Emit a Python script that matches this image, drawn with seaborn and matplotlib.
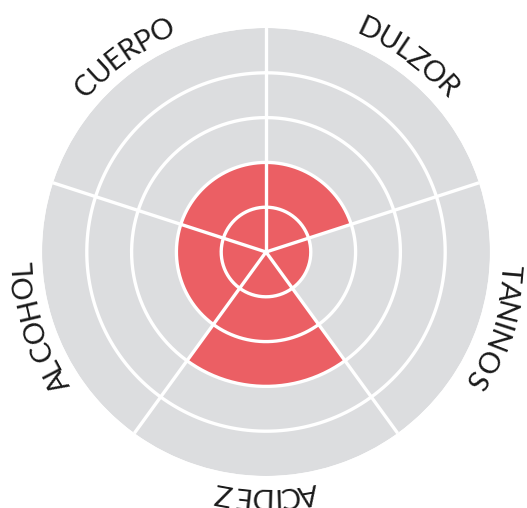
import numpy as np
import matplotlib
matplotlib.use("Agg")
import matplotlib.pyplot as plt
import seaborn as sns
from matplotlib.font_manager import FontProperties

# wine profile values (0..5 rings), clockwise from top
categories = ["DULZOR", "TANINOS", "ACIDEZ", "ALCOHOL", "CUERPO"]
values = [2, 1, 3, 2, 2]
max_level = 5

sns.set_theme(style="white")
plt.rcParams["font.family"] = ["Lato", "DejaVu Sans"]

grey = "#dcdddf"
red = "#eb5f64"
ink = "#1a1a1a"

fig = plt.figure(figsize=(5.27, 5.08), dpi=100)
# circle centre at (266, 252) px, radius 224 px
ax = fig.add_axes([42 / 527, (508 - 252 - 224) / 508, 448 / 527, 448 / 508], projection="polar")
ax.set_theta_zero_location("N")
ax.set_theta_direction(-1)

n = len(categories)
width = 2 * np.pi / n
theta = np.arange(n) * width + width / 2

# grey background sectors then the red values
ax.bar(theta, [max_level] * n, width=width, color=grey, linewidth=0)
ax.bar(theta, values, width=width, color=red, linewidth=0)

# white ring + spoke lines
t = np.linspace(0, 2 * np.pi, 400)
for lvl in range(1, max_level):
    ax.plot(t, np.full_like(t, lvl), color="white", lw=2.4)
for k in range(n):
    ax.plot([k * width, k * width], [0, max_level], color="white", lw=2.4)

ax.set_ylim(0, max_level)
ax.set_xticks([])
ax.set_yticks([])
ax.grid(False)
ax.spines["polar"].set_visible(False)
ax.set_facecolor("none")

# curved labels, letters placed one by one clockwise, tops outward
fp = FontProperties(family=["Lato", "DejaVu Sans"], weight="normal", size=21)
renderer = fig.canvas.get_renderer()
r_px = 244
r_data = max_level * r_px / 224

def text_w(s):
    if not s:
        return 0.0
    w, h, d = renderer.get_text_width_height_descent(s, fp, ismath=False)
    return w

for name, th in zip(categories, theta):
    total = text_w(name)
    for i, ch in enumerate(name):
        mid = (text_w(name[:i]) + text_w(name[:i + 1])) / 2 - total / 2
        a = th + mid / r_px
        ax.text(a, r_data, ch, fontproperties=fp, color=ink,
                rotation=-np.degrees(a), rotation_mode="anchor",
                ha="center", va="center")

fig.savefig("out.png", dpi=100)
